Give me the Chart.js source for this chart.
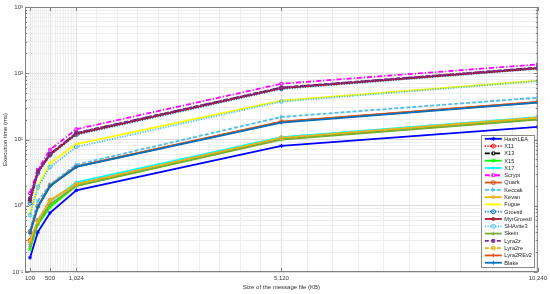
<!DOCTYPE html>
<html>
<head>
<meta charset="utf-8">
<script src="https://cdn.jsdelivr.net/npm/chart.js@4.4.9/dist/chart.umd.min.js"></script>
<style>
  html, body { margin: 0; padding: 0; background: #fff; }
  canvas { display: block; }
</style>
</head>
<body>
<canvas id="myChart" width="550" height="294"></canvas>
<script>
// message sizes (KB)
const fileSizes = [100, 256, 500, 1024, 5120, 10240];
const xTickValues = [100, 500, 1024, 5120, 10240];
const xTickLabels = ["100", "500", "1,024", "5,120", "10,240"];
const yDecades = [-1, 0, 1, 2, 3];
const yTickLabels = ["10⁻¹", "10⁰", "10¹", "10²", "10³"];

const seriesNames = ["HashLEA", "X11", "X13", "X15", "X17", "Scrypt", "Quark", "Keccak", "Kevan",
  "Fugue", "Groestl", "MyrGroestl", "SHAvite3", "Skein", "Lyra2z", "Lyra2re", "Lyra2REv2", "Blake"];

// execution time (ms)
const hashLEA = [0.164, 0.40, 0.78, 1.71, 8.0, 15.5];
const x11 = [0.30, 0.60, 1.20, 2.15, 10.6, 21.5];
const x13 = [1.24, 3.3, 6.0, 12.5, 60.5, 121];
const x15 = [0.22, 0.52, 0.96, 2.0, 10.2, 20.3];
const x17 = [0.26, 0.60, 1.15, 2.25, 10.9, 21.8];
const scrypt = [1.55, 3.5, 7.0, 14.3, 69.5, 136];
const quark = [0.41, 0.98, 2.05, 3.95, 18.6, 36.9];
const keccak = [0.42, 1.17, 2.1, 4.17, 21.9, 42.8];
const kevan = [0.28, 0.58, 1.2, 2.1, 10.5, 21.2];
const fugue = [0.76, 1.96, 4.4, 8.5, 38.5, 77];
const groestl = [1.09, 3.1, 5.8, 11.8, 58, 117];
const myrGroestl = [1.2, 3.2, 5.9, 12.2, 59.5, 119];
const shavite3 = [0.72, 1.9, 3.85, 7.7, 37.5, 76];
const skein = [0.24, 0.55, 1.05, 2.0, 10.0, 20.0];
const lyra2z = [1.3, 3.3, 6.1, 12.6, 61, 122];
const lyra2re = [0.29, 0.59, 1.22, 2.12, 10.6, 21.4];
const lyra2rev2 = [0.40, 0.97, 2.0, 3.9, 18.4, 36.5];
const blake = [0.38, 0.95, 1.97, 3.85, 18.0, 36.0];

const seriesValues = [hashLEA, x11, x13, x15, x17, scrypt, quark, keccak, kevan,
  fugue, groestl, myrGroestl, shavite3, skein, lyra2z, lyra2re, lyra2rev2, blake];

const dotted = [1.2, 1.4];
const dashed = [4, 2];
const dashDot = [5, 2, 1.2, 2];
const seriesStyles = [
  { color: "#0000ff", dash: [], marker: "star" },
  { color: "#ff0000", dash: dotted, marker: "circle" },
  { color: "#000000", dash: dashDot, marker: "rect" },
  { color: "#00ff00", dash: [], marker: "star" },
  { color: "#00ffff", dash: [], marker: "cross" },
  { color: "#ff00ff", dash: dashDot, marker: "rect" },
  { color: "#d95319", dash: [], marker: "circle" },
  { color: "#4dbeee", dash: dashed, marker: "triangle", rotation: 90 },
  { color: "#edb120", dash: [], marker: "rectRot" },
  { color: "#ffff00", dash: [], marker: "cross" },
  { color: "#0072bd", dash: dotted, marker: "circle" },
  { color: "#a2142f", dash: [], marker: "rectRot" },
  { color: "#4dbeee", dash: dotted, marker: "circle" },
  { color: "#77ac30", dash: [], marker: "cross" },
  { color: "#7e2f8e", dash: dashed, marker: "rect" },
  { color: "#edb120", dash: dashed, marker: "circle" },
  { color: "#d95319", dash: [], marker: "cross" },
  { color: "#0072bd", dash: [], marker: "cross" },
];

const $canvas = document.getElementById("myChart");
Chart.defaults.font.family = "'Liberation Sans', Arial, sans-serif";
Chart.defaults.font.size = 6;
Chart.defaults.color = "#3a3a3a";

function xGridTicks() {
  const ticks = [];
  for (let i = 0; i < xTickValues.length; i++) {
    ticks.push({ value: xTickValues[i], major: true });
    if (i < xTickValues.length - 1) {
      const step = (xTickValues[i + 1] - xTickValues[i]) / 10;
      for (let j = 1; j < 10; j++) ticks.push({ value: xTickValues[i] + j * step, major: false });
    }
  }
  return ticks;
}

function yGridTicks() {
  const ticks = [];
  yDecades.forEach((d, i) => {
    const base = Math.pow(10, d);
    ticks.push({ value: base, major: true });
    if (i < yDecades.length - 1) {
      for (let m = 2; m <= 9; m++) ticks.push({ value: m * base, major: false });
    }
  });
  return ticks;
}

const datasets = seriesNames.map((name, i) => {
  const st = seriesStyles[i];
  return {
    label: name,
    data: fileSizes.map((s, k) => ({ x: s, y: seriesValues[i][k] })),
    borderColor: st.color,
    borderWidth: 1.8,
    borderDash: st.dash,
    pointStyle: st.marker,
    pointRotation: st.rotation || 0,
    pointRadius: 1.9,
    pointBorderWidth: 1,
    pointBorderColor: st.color,
    pointBackgroundColor: "rgba(255,255,255,0)",
    fill: false,
    tension: 0,
    order: seriesNames.length - i,
  };
});

// box round the axes, with inward ticks like the original
const axesFrame = {
  id: "axesFrame",
  afterDatasetsDraw(chart) {
    const { ctx, chartArea: a, scales } = chart;
    ctx.save();
    ctx.strokeStyle = "#808080";
    ctx.lineWidth = 1;
    ctx.strokeRect(a.left + 0.5, a.top + 0.5, a.right - a.left - 1, a.bottom - a.top - 1);
    ctx.beginPath();
    xTickValues.forEach((v) => {
      const x = Math.round(scales.x.getPixelForValue(v)) + 0.5;
      ctx.moveTo(x, a.bottom); ctx.lineTo(x, a.bottom - 4);
      ctx.moveTo(x, a.top); ctx.lineTo(x, a.top + 4);
    });
    yGridTicks().forEach((t) => {
      const y = Math.round(scales.y.getPixelForValue(t.value)) + 0.5;
      const len = t.major ? 4 : 2;
      ctx.moveTo(a.left, y); ctx.lineTo(a.left + len, y);
      ctx.moveTo(a.right, y); ctx.lineTo(a.right - len, y);
    });
    ctx.stroke();
    ctx.restore();
  },
};

// legend box inside the plot, bottom right
const boxLegend = {
  id: "boxLegend",
  afterDraw(chart) {
    const { ctx, chartArea: a } = chart;
    const sets = chart.data.datasets;
    const rowH = 7.29;
    const boxW = 53;
    const boxH = 132;
    const right = a.right - 4;
    const bottom = a.bottom - 5;
    const left = right - boxW;
    const top = bottom - boxH;
    ctx.save();
    ctx.fillStyle = "#ffffff";
    ctx.fillRect(left, top, boxW, boxH);
    ctx.strokeStyle = "#8a8a8a";
    ctx.lineWidth = 1;
    ctx.strokeRect(Math.round(left) + 0.5, Math.round(top) + 0.5, boxW, boxH);
    ctx.font = "5.6px 'Liberation Sans', Arial, sans-serif";
    ctx.textBaseline = "middle";
    sets.forEach((ds, i) => {
      const cy = top + 3.8 + i * rowH;
      ctx.save();
      ctx.strokeStyle = ds.borderColor;
      ctx.lineWidth = ds.borderWidth;
      ctx.setLineDash(ds.borderDash);
      ctx.beginPath();
      ctx.moveTo(left + 4, cy);
      ctx.lineTo(left + 21, cy);
      ctx.stroke();
      ctx.setLineDash([]);
      ctx.lineWidth = 1;
      ctx.fillStyle = "rgba(255,255,255,0)";
      Chart.helpers.drawPoint(ctx, {
        pointStyle: ds.pointStyle,
        rotation: ds.pointRotation,
        radius: 2,
        borderWidth: 1,
      }, left + 12.5, cy);
      ctx.restore();
      ctx.fillStyle = "#262626";
      ctx.fillText(ds.label, left + 23.5, cy + 0.3);
    });
    ctx.restore();
  },
};

let myChart = new Chart($canvas, {
  type: "line",
  data: { datasets },
  options: {
    responsive: false,
    animation: false,
    layout: { padding: { top: 7, right: 12, left: 0, bottom: 0 } },
    plugins: {
      legend: { display: false },
      tooltip: { enabled: false },
    },
    scales: {
      x: {
        type: "linear",
        min: 0,
        max: 10240,
        afterBuildTicks: (scale) => { scale.ticks = xGridTicks(); },
        afterFit: (scale) => { scale.height = 22; },
        ticks: {
          autoSkip: false,
          maxRotation: 0,
          padding: 3,
          color: "#3a3a3a",
          callback: (value) => {
            const i = xTickValues.indexOf(value);
            return i >= 0 ? xTickLabels[i] : "";
          },
        },
        grid: {
          drawTicks: false,
          color: (ctx) => (ctx.tick && ctx.tick.major ? "#dedede" : "#eeeeee"),
          lineWidth: 1,
        },
        border: { display: false },
        title: {
          display: true,
          text: "Size of the message file (KB)",
          color: "#303030",
          font: { size: 6 },
          padding: { top: 0, bottom: 3 },
        },
      },
      y: {
        type: "logarithmic",
        min: 0.1,
        max: 1000,
        afterBuildTicks: (scale) => { scale.ticks = yGridTicks(); },
        afterFit: (scale) => { scale.width = 25; },
        ticks: {
          autoSkip: false,
          padding: 2,
          color: "#3a3a3a",
          callback: (value) => {
            const e = Math.log10(value);
            const r = Math.round(e);
            if (Math.abs(e - r) > 1e-9) return "";
            const i = yDecades.indexOf(r);
            return i >= 0 ? yTickLabels[i] : "";
          },
        },
        grid: {
          drawTicks: false,
          color: (ctx) => (ctx.tick && ctx.tick.major ? "#dedede" : "#eeeeee"),
          lineWidth: 1,
        },
        border: { display: false },
        title: {
          display: true,
          text: "Execution time (ms)",
          color: "#303030",
          font: { size: 6 },
          padding: { top: 2, bottom: 0 },
        },
      },
    },
  },
  plugins: [axesFrame, boxLegend],
});
</script>
</body>
</html>
